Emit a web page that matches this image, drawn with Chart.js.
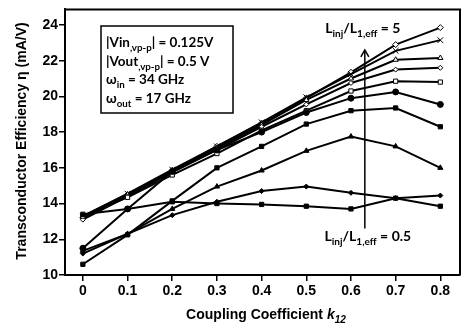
<!DOCTYPE html>
<html>
<head>
<meta charset="utf-8">
<script src="https://cdn.jsdelivr.net/npm/chart.js@4.4.1/dist/chart.umd.min.js"></script>
<style>
  html, body { margin: 0; padding: 0; background: #fff; }
  canvas { display: block; }
</style>
</head>
<body>
<canvas id="chart" width="465" height="329"></canvas>
<script>
// coupling coefficient k12 (x values)
const kValues = [0, 0.1, 0.2, 0.3, 0.4, 0.5, 0.6, 0.7, 0.8];
const yTicks = [10, 12, 14, 16, 18, 20, 22, 24];

// transconductor efficiency (mA/V), one array per Linj/L1,eff curve
const diamondOpen  = [13.2, 14.5, 15.85, 17.2, 18.5, 19.9, 21.35, 22.9, 23.85];
const crossSeries  = [13.3, 14.55, 15.9, 17.2, 18.55, 19.95, 21.25, 22.55, 23.15];
const triOpen      = [13.3, 14.5, 15.85, 17.1, 18.4, 19.8, 21.0, 22.05, 22.15];
const diamondSmall = [13.1, 14.4, 15.75, 17.0, 18.3, 19.55, 20.75, 21.5, 21.6];
const squareOpen   = [13.3, 14.35, 15.6, 16.8, 18.1, 19.2, 20.3, 20.85, 20.8];
const circleFill   = [11.5, 13.7, 15.8, 17.0, 18.0, 19.1, 19.9, 20.25, 19.55];
const squareFill   = [10.6, 12.25, 14.15, 16.0, 17.2, 18.45, 19.2, 19.35, 18.3];
const triFill      = [11.35, 12.3, 13.7, 14.95, 15.85, 16.95, 17.75, 17.2, 16.0];
const diamondFlat  = [11.2, 12.3, 13.35, 14.1, 14.7, 14.95, 14.6, 14.3, 14.45];
const squareFlat   = [13.4, 13.7, 14.1, 14.0, 13.95, 13.85, 13.7, 14.3, 13.85];

function mk(vals, style, fill, r) {
    return {
        data: vals.map((v, i) => ({ x: kValues[i], y: v })),
        borderColor: '#000',
        borderWidth: 2,
        pointStyle: style,
        pointRadius: r,
        pointBorderColor: '#000',
        pointBorderWidth: 1,
        pointBackgroundColor: fill ? '#000' : '#fff',
        backgroundColor: fill ? '#000' : '#fff',
        fill: false,
        tension: 0
    };
}

const datasets = [
    mk(squareFlat, 'rect', true, 3),
    mk(diamondFlat, 'rectRot', true, 2.5),
    mk(triFill, 'triangle', true, 3),
    mk(squareFill, 'rect', true, 3),
    mk(circleFill, 'circle', true, 3),
    mk(squareOpen, 'rect', false, 3),
    mk(diamondSmall, 'rectRot', false, 2.5),
    mk(triOpen, 'triangle', false, 3),
    mk(crossSeries, 'crossRot', false, 4),
    mk(diamondOpen, 'rectRot', false, 3)
];

// draws text with subscript pieces, returns end x
function drawParts(ctx, parts, x, y, size, family) {
    parts.forEach(p => {
        let s = p.sub ? size * 0.72 : size;
        ctx.font = (p.italic ? 'italic ' : '') + 'bold ' + s + 'px ' + family;
        ctx.fillText(p.t, x, p.sub ? y + size * 0.28 : y);
        x += ctx.measureText(p.t).width;
    });
    return x;
}
function partsWidth(ctx, parts, size, family) {
    let w = 0;
    parts.forEach(p => {
        let s = p.sub ? size * 0.72 : size;
        ctx.font = (p.italic ? 'italic ' : '') + 'bold ' + s + 'px ' + family;
        w += ctx.measureText(p.t).width;
    });
    return w;
}

const extras = {
    id: 'extras',
    afterDraw(chart) {
        const ctx = chart.ctx;
        const a = chart.chartArea;
        const xs = chart.scales.x, ys = chart.scales.y;
        ctx.save();
        ctx.fillStyle = '#000';
        ctx.strokeStyle = '#000';

        // frame top/right
        ctx.lineWidth = 2;
        ctx.beginPath();
        ctx.moveTo(a.left, a.top);
        ctx.lineTo(a.right, a.top);
        ctx.lineTo(a.right, a.bottom);
        ctx.stroke();

        // parameter box
        ctx.lineWidth = 1.5;
        ctx.strokeRect(101, 26, 132, 87);
        const bf = 'Lato, "Open Sans", sans-serif';
        ctx.textBaseline = 'alphabetic';
        ctx.textAlign = 'left';
        drawParts(ctx, [{t: '|Vin'}, {t: ',vp-p', sub: true}, {t: '| = 0.125V'}], 106, 47, 13.5, bf);
        drawParts(ctx, [{t: '|Vout'}, {t: ',vp-p', sub: true}, {t: '| = 0.5 V'}], 106, 66, 13.5, bf);
        drawParts(ctx, [{t: '\u03c9'}, {t: 'in', sub: true}, {t: ' = 34 GHz'}], 106, 84, 13.5, bf);
        drawParts(ctx, [{t: '\u03c9'}, {t: 'out', sub: true}, {t: ' = 17 GHz'}], 106, 103, 13.5, bf);

        // arrow
        const ax = xs.getPixelForValue(0.631);
        const top = ys.getPixelForValue(22.6), bot = ys.getPixelForValue(12.6);
        ctx.lineWidth = 1.5;
        ctx.beginPath();
        ctx.moveTo(ax, bot);
        ctx.lineTo(ax, top + 1);
        ctx.stroke();
        ctx.beginPath();
        ctx.moveTo(ax - 4, top + 7);
        ctx.lineTo(ax, top);
        ctx.lineTo(ax + 4, top + 7);
        ctx.stroke();

        const lbl5 = [{t: 'L'}, {t: 'inj', sub: true}, {t: '/L'}, {t: '1,eff', sub: true}, {t: ' = 5'}];
        let w = partsWidth(ctx, lbl5, 14, bf);
        drawParts(ctx, lbl5, ax - w / 2 - 2, 33, 14, bf);
        const lbl05 = [{t: 'L'}, {t: 'inj', sub: true}, {t: '/L'}, {t: '1,eff', sub: true}, {t: ' = 0.5'}];
        w = partsWidth(ctx, lbl05, 14, bf);
        drawParts(ctx, lbl05, ax - w / 2 + 3, 241, 14, bf);

        // axis titles
        const af = '"Liberation Sans", Arial, sans-serif';
        const xt = [{t: 'Coupling Coefficient '}, {t: 'k', italic: true}, {t: '12', italic: true, sub: true}];
        w = partsWidth(ctx, xt, 14, af);
        drawParts(ctx, xt, 266 - w / 2, 319, 14, af);

        ctx.translate(26, 141);
        ctx.rotate(-Math.PI / 2);
        ctx.font = 'bold 14px ' + af;
        ctx.textAlign = 'center';
        ctx.fillText('Transconductor Efficiency \u03b7 (mA/V)', 0, 0);
        ctx.restore();
    }
};

new Chart(document.getElementById('chart'), {
    type: 'line',
    data: { datasets: datasets },
    plugins: [extras],
    options: {
        responsive: false,
        animation: false,
        devicePixelRatio: 1,
        layout: { padding: { top: 1, right: 1, left: 0, bottom: 0 } },
        plugins: { legend: { display: false }, tooltip: { enabled: false } },
        scales: {
            x: {
                type: 'linear',
                min: -0.04,
                max: 0.844,
                afterBuildTicks: s => { s.ticks = kValues.map(v => ({ value: v })); },
                afterFit: s => { s.height = 54; },
                ticks: {
                    color: '#000',
                    padding: 2,
                    maxRotation: 0,
                    font: { family: '"Liberation Sans", Arial, sans-serif', size: 14, weight: 'bold' },
                    callback: v => v === 0 ? '0' : v.toFixed(1)
                },
                grid: { drawOnChartArea: false, tickLength: 6, color: '#000', lineWidth: 1.5 },
                border: { color: '#000', width: 2 }
            },
            y: {
                min: 10,
                max: 24.87,
                afterBuildTicks: s => { s.ticks = yTicks.map(v => ({ value: v })); },
                afterFit: s => { s.width = 65; },
                ticks: {
                    color: '#000',
                    padding: 1,
                    font: { family: '"Liberation Sans", Arial, sans-serif', size: 14, weight: 'bold' }
                },
                grid: { drawOnChartArea: false, tickLength: 6, color: '#000', lineWidth: 1.5 },
                border: { color: '#000', width: 2 }
            }
        }
    }
});
</script>
</body>
</html>
